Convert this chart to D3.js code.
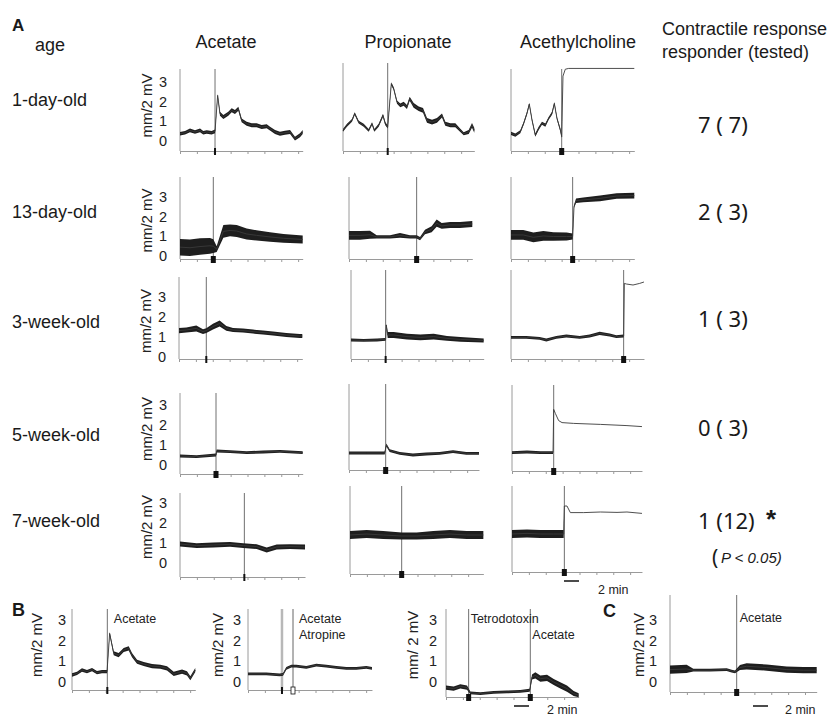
<!DOCTYPE html>
<html>
<head>
<meta charset="utf-8">
<script src="https://cdn.jsdelivr.net/npm/d3@7"></script>
<style>
  body { margin: 0; background: #fff; }
  svg { display: block; font-family: "Liberation Sans", Arial, sans-serif; }
</style>
</head>
<body>
<div id="chart"></div>
<script>

// ---- labels
const ages = ["1-day-old", "13-day-old", "3-week-old", "5-week-old", "7-week-old"];
const agents = ["Acetate", "Propionate", "Acethylcholine"];
const responders = [7, 2, 1, 0, 1];
const tested = [7, 3, 3, 3, 12];
const yTicks = [0, 1, 2, 3];

// ---- traces: [minutes, mm/2mV, noise half-width]
const day1Acetate = [[0,0.37,0.09],[0.67,0.42,0.09],[1.33,0.54,0.09],[2.0,0.46,0.09],[2.67,0.54,0.09],[3.1,0.42,0.09],[3.56,0.46,0.09],[4.22,0.42,0.09],[4.67,0.49,0.09],[5.02,2.32,0.04],[5.33,1.39,0.1],[5.78,1.22,0.1],[6.44,1.39,0.1],[6.89,1.56,0.1],[7.33,1.47,0.1],[7.78,1.64,0.1],[8.22,1.05,0.1],[8.89,0.88,0.1],[9.56,0.8,0.1],[10.22,0.8,0.1],[10.89,0.71,0.1],[11.56,0.75,0.1],[12.0,0.63,0.1],[12.67,0.46,0.1],[13.33,0.37,0.1],[14.0,0.42,0.1],[14.67,0.46,0.1],[15.33,0.12,0.1],[16.0,0.29,0.1],[16.36,0.46,0.1]];
const day1Propionate = [[0,0.54,0.06],[0.53,0.8,0.06],[1.2,1.05,0.06],[1.56,1.39,0.06],[2.09,0.96,0.06],[2.76,0.8,0.06],[3.42,0.54,0.04],[3.87,0.88,0.04],[4.18,0.54,0.04],[4.76,0.8,0.06],[5.33,1.3,0.08],[5.64,0.88,0.08],[5.96,0.71,0.08],[6.44,2.91,0.04],[6.76,2.66,0.05],[7.2,1.98,0.08],[7.64,1.81,0.1],[8.09,1.89,0.1],[8.53,1.73,0.1],[8.89,2.15,0.1],[9.42,1.81,0.12],[10.09,1.64,0.12],[10.67,1.56,0.12],[11.2,1.05,0.12],[11.87,0.96,0.12],[12.53,1.05,0.12],[13.2,1.3,0.1],[13.64,0.88,0.1],[14.31,0.8,0.1],[14.98,0.8,0.1],[15.64,0.54,0.08],[16.09,0.37,0.08],[16.76,0.46,0.1],[17.2,0.8,0.12],[17.51,0.54,0.12]];
const day1ACh = [[0,0.39,0.08],[0.58,0.3,0.08],[1.24,0.47,0.08],[1.69,0.9,0.06],[2.13,1.41,0.05],[2.44,1.88,0.04],[2.8,1.07,0.06],[3.24,0.3,0.08],[3.69,0.64,0.08],[4.13,0.9,0.08],[4.58,0.81,0.08],[5.02,1.15,0.06],[5.47,1.41,0.06],[5.78,1.91,0.05],[6.13,1.15,0.06],[6.58,0.56,0.08],[6.76,0.22,0.04],[6.93,3.3,0],[7.24,3.65,0],[7.69,3.69,0],[16.44,3.69,0]];

const day13Acetate = [[0,0.45,0.42],[1.33,0.42,0.42],[2.67,0.48,0.42],[4.0,0.52,0.4],[4.44,0.5,0.35],[4.89,0.35,0.15],[5.78,1.25,0.32],[6.67,1.3,0.3],[7.56,1.27,0.3],[8.89,1.12,0.28],[10.2,1.05,0.26],[12.0,0.97,0.24],[13.8,0.9,0.22],[16.36,0.84,0.2]];
const day13Propionate = [[0,1.05,0.22],[1.47,1.05,0.22],[2.8,1.08,0.2],[3.69,0.97,0.08],[5.47,0.97,0.08],[6.8,1.05,0.12],[8.13,0.97,0.08],[9.02,0.97,0.08],[9.47,0.88,0.08],[10.13,1.22,0.12],[11.02,1.36,0.15],[11.69,1.67,0.18],[12.36,1.53,0.15],[13.47,1.58,0.15],[14.8,1.58,0.15],[16.44,1.63,0.15]];
const day13ACh = [[0,1.07,0.25],[1.64,1.07,0.25],[2.98,0.95,0.25],[4.31,1.02,0.25],[5.64,0.99,0.22],[7.42,0.99,0.2],[8.22,0.99,0.15],[8.4,2.51,0.05],[8.67,2.81,0.12],[9.64,2.85,0.12],[11.87,2.93,0.14],[14.09,3.05,0.14],[16.44,3.07,0.14]];

const week3Acetate = [[0,1.32,0.13],[0.98,1.35,0.13],[2.31,1.43,0.15],[3.2,1.27,0.12],[3.64,1.32,0.12],[4.53,1.52,0.14],[5.42,1.68,0.15],[6.31,1.43,0.12],[7.2,1.35,0.1],[8.53,1.32,0.1],[9.87,1.27,0.1],[11.2,1.22,0.1],[12.53,1.18,0.1],[14.31,1.1,0.1],[16.09,1.05,0.1],[16.44,1.05,0.1]];
const week3Propionate = [[0,0.85,0.05],[1.69,0.83,0.05],[3.47,0.85,0.05],[4.62,0.88,0.05],[4.71,1.6,0.03],[4.89,1.1,0.15],[5.69,1.1,0.15],[7.47,1.02,0.14],[9.24,0.98,0.14],[11.02,1.02,0.14],[12.8,0.93,0.12],[14.58,0.88,0.12],[17.69,0.83,0.1]];
const week3ACh = [[0,0.98,0.07],[2.04,0.98,0.07],[3.82,0.93,0.07],[4.71,0.85,0.06],[6.04,0.98,0.07],[7.38,1.05,0.07],[9.16,0.98,0.07],[10.49,1.05,0.07],[11.82,1.18,0.08],[13.16,1.1,0.07],[14.04,1.02,0.07],[15.02,1.05,0.06],[15.11,3.68,0],[15.38,3.65,0],[16.27,3.6,0],[17.16,3.68,0],[17.73,3.75,0]];

const week5Acetate = [[0,0.45,0.07],[2.22,0.42,0.07],[4.8,0.5,0.07],[4.89,0.7,0.07],[6.67,0.67,0.07],[8.89,0.62,0.07],[11.11,0.65,0.07],[13.33,0.68,0.07],[16.36,0.62,0.07]];
const week5Propionate = [[0,0.6,0.07],[2.31,0.6,0.07],[4.76,0.6,0.07],[4.98,1.0,0.03],[5.42,0.72,0.07],[6.76,0.58,0.07],[8.53,0.5,0.07],[10.31,0.55,0.07],[12.09,0.58,0.07],[13.87,0.67,0.07],[15.64,0.58,0.07],[17.33,0.58,0.07]];
const week5ACh = [[0,0.62,0.07],[2,0.65,0.07],[3.78,0.62,0.07],[5.47,0.62,0.07],[5.56,2.78,0],[5.78,2.58,0],[6.22,2.22,0],[6.67,2.12,0],[8.22,2.08,0],[11.78,2.03,0],[15.33,1.97,0],[17.33,1.92,0]];

const week7Acetate = [[0,0.95,0.12],[2.22,0.87,0.12],[4.44,0.9,0.12],[6.67,0.93,0.12],[8.44,0.87,0.12],[10.22,0.82,0.12],[11.56,0.65,0.12],[12.89,0.8,0.12],[14.67,0.82,0.12],[16.67,0.8,0.12]];
const week7Propionate = [[0,1.4,0.2],[2.22,1.45,0.2],[4.44,1.4,0.2],[6.89,1.35,0.18],[8.89,1.35,0.18],[11.11,1.4,0.2],[13.33,1.45,0.2],[15.56,1.4,0.2],[17.78,1.4,0.2]];
const week7ACh = [[0,1.45,0.2],[2,1.48,0.2],[3.78,1.45,0.2],[5.56,1.45,0.2],[6.89,1.45,0.2],[6.98,2.85,0],[7.33,2.85,0],[7.78,2.52,0],[9.56,2.52,0],[11.78,2.55,0],[14,2.53,0],[15.33,2.55,0],[17.33,2.48,0]];

const bAcetate = [[0,0.34,0.08],[0.67,0.42,0.08],[1.33,0.58,0.08],[2,0.5,0.08],[2.67,0.6,0.08],[3.33,0.45,0.08],[4,0.5,0.08],[4.67,0.5,0.08],[5.02,2.35,0.04],[5.56,1.39,0.1],[6.22,1.3,0.1],[6.89,1.55,0.1],[7.56,1.63,0.1],[8,1.3,0.1],[8.67,0.98,0.1],[9.56,0.87,0.1],[10.67,0.77,0.1],[11.78,0.74,0.1],[12.67,0.66,0.1],[13.56,0.39,0.1],[14.67,0.5,0.1],[15.33,0.42,0.1],[15.78,0.18,0.1],[16.44,0.58,0.1]];
const bAtropine = [[0,0.39,0.02],[2.44,0.39,0.02],[4.22,0.34,0.02],[4.67,0.37,0.02],[5.11,0.66,0.03],[5.78,0.77,0.04],[6.44,0.77,0.05],[7.78,0.71,0.05],[9.11,0.82,0.05],[10.44,0.77,0.06],[11.78,0.71,0.06],[13.11,0.66,0.06],[14.44,0.66,0.06],[15.78,0.71,0.07],[16.53,0.66,0.07]];
const bTTX = [[0,-0.27,0.1],[1.02,-0.32,0.1],[1.91,-0.21,0.1],[2.8,-0.27,0.1],[3.24,-0.53,0.06],[4.58,-0.56,0.05],[6.36,-0.5,0.05],[8.13,-0.48,0.05],[9.91,-0.45,0.05],[11.16,-0.4,0.06],[11.47,0.24,0.12],[11.91,0.32,0.15],[12.58,0.16,0.15],[13.47,0.2,0.15],[14.36,0,0.15],[15.24,-0.16,0.15],[16.13,-0.32,0.15],[17.02,-0.56,0.12],[17.69,-0.64,0.1]];
const cAcetate = [[0,0.6,0.2],[2.22,0.63,0.2],[3.11,0.57,0.06],[5.33,0.57,0.05],[7.56,0.6,0.05],[8.22,0.53,0.05],[8.67,0.49,0.05],[9.33,0.7,0.12],[10.22,0.76,0.15],[12.89,0.7,0.15],[15.56,0.6,0.15],[17.78,0.57,0.15],[19.56,0.57,0.15]];

// stimulus times (min)
const stimAcetate = [4.67, 4.44, 3.64, 4.8, 8.58];
const stimPropionate = [5.96, 9.02, 4.62, 4.89, 6.89];
const stimACh = [6.76, 8.22, 15.02, 5.56, 6.98];

const tracesA = [
  [day1Acetate, day1Propionate, day1ACh],
  [day13Acetate, day13Propionate, day13ACh],
  [week3Acetate, week3Propionate, week3ACh],
  [week5Acetate, week5Propionate, week5ACh],
  [week7Acetate, week7Propionate, week7ACh]
];

// ---- layout
const pxPerMin = 7.5;
const tickStep = 2.25;
const minHalf = 1.4;   // px, thinnest drawn noise band
const rowsA = [
  { y0: 141, y3: 82,  boxes: [[180, 69, 151], [343, 63, 151], [511, 69, 151]], marks: [2, 2, 5], labelY: 100 },
  { y0: 256, y3: 197, boxes: [[180, 177, 259], [349, 177, 259], [511, 177, 259]], marks: [5, 5, 5], labelY: 212 },
  { y0: 357, y3: 297, boxes: [[179, 277, 359], [351, 270, 359], [511, 270, 359]], marks: [2, 2, 5], labelY: 322 },
  { y0: 465, y3: 405, boxes: [[180, 393, 474], [349, 384, 470], [512, 385, 471]], marks: [5, 5, 5], labelY: 435 },
  { y0: 563, y3: 503, boxes: [[180, 493, 577], [350, 486, 574], [512, 486, 572]], marks: [2, 5, 5], labelY: 521 }
];
const countBaselines = [133, 220, 327, 436, 529];
const headerX = [226, 408, 578];

const W = 839, H = 719;
const svg = d3.select("#chart").append("svg")
  .attr("width", W).attr("height", H)
  .attr("viewBox", `0 0 ${W} ${H}`);

const axisGrey = "#9a9a9a";

function drawPanel(p) {
  const dur = d3.max(p.trace, d => d[0]);
  const x = d3.scaleLinear().domain([0, dur]).range([p.left, p.left + dur * pxPerMin]);
  const y = d3.scaleLinear().domain([0, 3]).range([p.y0, p.y3]);
  const unit = p.y0 - p.y3;
  const half = d => d[2] > 0 ? Math.max(d[2] * unit / 3, minHalf) : 0;
  const g = svg.append("g").attr("class", "panel");

  g.append("line")
    .attr("x1", p.left).attr("x2", p.left)
    .attr("y1", p.top).attr("y2", p.bottom)
    .attr("stroke", axisGrey).attr("stroke-width", 1);

  g.append("g")
    .attr("transform", `translate(0,${p.bottom})`)
    .call(d3.axisBottom(x).tickValues(d3.range(0, dur, tickStep)).tickSize(3).tickSizeOuter(0).tickFormat(""))
    .call(a => a.select(".domain").attr("stroke", axisGrey))
    .call(a => a.selectAll(".tick line").attr("stroke", axisGrey));

  p.stims.forEach((s, i) => {
    g.append("line")
      .attr("x1", x(s)).attr("x2", x(s))
      .attr("y1", p.top).attr("y2", p.bottom)
      .attr("stroke", p.stimColors ? p.stimColors[i] : "#707070")
      .attr("stroke-width", p.stimWidths ? p.stimWidths[i] : 1);
  });

  g.append("path").datum(p.trace)
    .attr("fill", "#1e1e1e")
    .attr("d", d3.area().x(d => x(d[0])).y0(d => y(d[1]) + half(d)).y1(d => y(d[1]) - half(d)));
  g.append("path").datum(p.trace)
    .attr("fill", "none").attr("stroke", "#3a3a3a").attr("stroke-width", 0.9)
    .attr("d", d3.line().x(d => x(d[0])).y(d => y(d[1])));

  p.stims.forEach((s, i) => {
    const w = p.marks[i];
    const hollow = p.hollow && p.hollow[i];
    g.append("rect")
      .attr("x", x(s) - w / 2).attr("y", p.bottom - 3)
      .attr("width", w).attr("height", 7)
      .attr("fill", hollow ? "#fff" : "#111")
      .attr("stroke", "#111").attr("stroke-width", hollow ? 0.8 : 0);
  });

  if (p.labelDx) {
    g.selectAll("text.ytick").data(yTicks).join("text")
      .attr("class", "ytick")
      .attr("x", p.left - p.labelDx).attr("y", d => y(d))
      .attr("text-anchor", "middle").attr("dominant-baseline", "central")
      .style("font-size", "14.5px").attr("fill", "#222")
      .text(d => d);
    g.append("text")
      .attr("transform", `translate(${p.left - p.titleDx},${(p.y0 + p.y3) / 2 - 6}) rotate(-90)`)
      .attr("text-anchor", "middle").attr("dy", "0.35em")
      .style("font-size", "15px").attr("fill", "#222")
      .text(p.yTitle || "mm/2 mV");
  }

  (p.notes || []).forEach(n => {
    g.append("text")
      .attr("x", x(p.stims[n.stim]) + n.dx).attr("y", n.y)
      .style("font-size", "12.5px").attr("fill", "#222")
      .text(n.text);
  });
}

// ---- panel A
rowsA.forEach((row, r) => {
  const stims = [stimAcetate[r], stimPropionate[r], stimACh[r]];
  row.boxes.forEach((b, c) => {
    drawPanel({
      trace: tracesA[r][c], stims: [stims[c]], marks: [row.marks[c]],
      left: b[0], top: b[1], bottom: b[2], y0: row.y0, y3: row.y3,
      labelDx: c === 0 ? 17 : 0, titleDx: 33
    });
  });
});

// ---- panels B and C
drawPanel({ trace: bAcetate, stims: [4.71], marks: [2], left: 72, top: 609, bottom: 690, y0: 682, y3: 620,
  labelDx: 10, titleDx: 35, notes: [{ text: "Acetate", stim: 0, dx: 6.5, y: 623 }] });
drawPanel({ trace: bAtropine, stims: [4.53, 6.0], marks: [2, 4], hollow: [false, true],
  stimColors: ["#b8b8b8", "#666"], stimWidths: [2.5, 1],
  left: 248, top: 609, bottom: 690, y0: 682, y3: 620, labelDx: 11, titleDx: 30,
  notes: [{ text: "Acetate", stim: 1, dx: 6, y: 623 }, { text: "Atropine", stim: 1, dx: 6, y: 639 }] });
drawPanel({ trace: bTTX, stims: [3.02, 11.24], marks: [5, 5], left: 446, top: 609, bottom: 697, y0: 682, y3: 620,
  labelDx: 13, titleDx: 33, yTitle: "mm/ 2 mV",
  notes: [{ text: "Tetrodotoxin", stim: 0, dx: 2, y: 623 }, { text: "Acetate", stim: 1, dx: 2, y: 639 }] });
drawPanel({ trace: cAcetate, stims: [8.89], marks: [5], left: 670, top: 595, bottom: 692, y0: 682, y3: 620,
  labelDx: 17, titleDx: 31, notes: [{ text: "Acetate", stim: 0, dx: 3, y: 622 }] });

// ---- scale bars (2 min)
[[564, 581, 598, 594], [514, 706, 547, 714], [753, 706, 785, 714]].forEach(s => {
  svg.append("line").attr("x1", s[0]).attr("x2", s[0] + 2 * pxPerMin)
    .attr("y1", s[1]).attr("y2", s[1]).attr("stroke", "#111").attr("stroke-width", 1.5);
  svg.append("text").attr("x", s[2]).attr("y", s[3])
    .style("font-size", "12.5px").attr("fill", "#222").text("2 min");
});

// ---- text
const txt = (t, x, y, size, extra) => {
  const e = svg.append("text").attr("x", x).attr("y", y).style("font-size", size + "px").attr("fill", "#1a1a1a").text(t);
  if (extra) extra(e);
  return e;
};
txt("A", 12, 31, 17, e => e.style("font-weight", "bold"));
txt("B", 12, 616, 18, e => e.style("font-weight", "bold"));
txt("C", 603, 617, 18, e => e.style("font-weight", "bold"));
txt("age", 35, 51, 18);
agents.forEach((a, i) => txt(a, headerX[i], 48, 18, e => e.attr("text-anchor", "middle")));
txt("Contractile response", 662, 35, 18);
txt("responder (tested)", 662, 58, 18);

ages.forEach((a, i) => txt(a, 12, rowsA[i].labelY, 18, e => e.attr("dominant-baseline", "central")));

responders.forEach((r, i) => {
  const t = tested[i] < 10 ? "\u00A0" + tested[i] : String(tested[i]);
  txt(`${r}\u00A0(${t})`, 698, countBaselines[i], 22, e => e.style("font-family", "'Noto Sans', sans-serif"));
});
txt("*", 766, 528, 26, e => e.style("font-weight", "bold"));
txt("(", 712, 565, 21, e => e.style("font-family", "'Noto Sans', sans-serif"));
txt("P < 0.05)", 721, 563, 15, e => e.style("font-style", "italic"));

</script>
</body>
</html>
